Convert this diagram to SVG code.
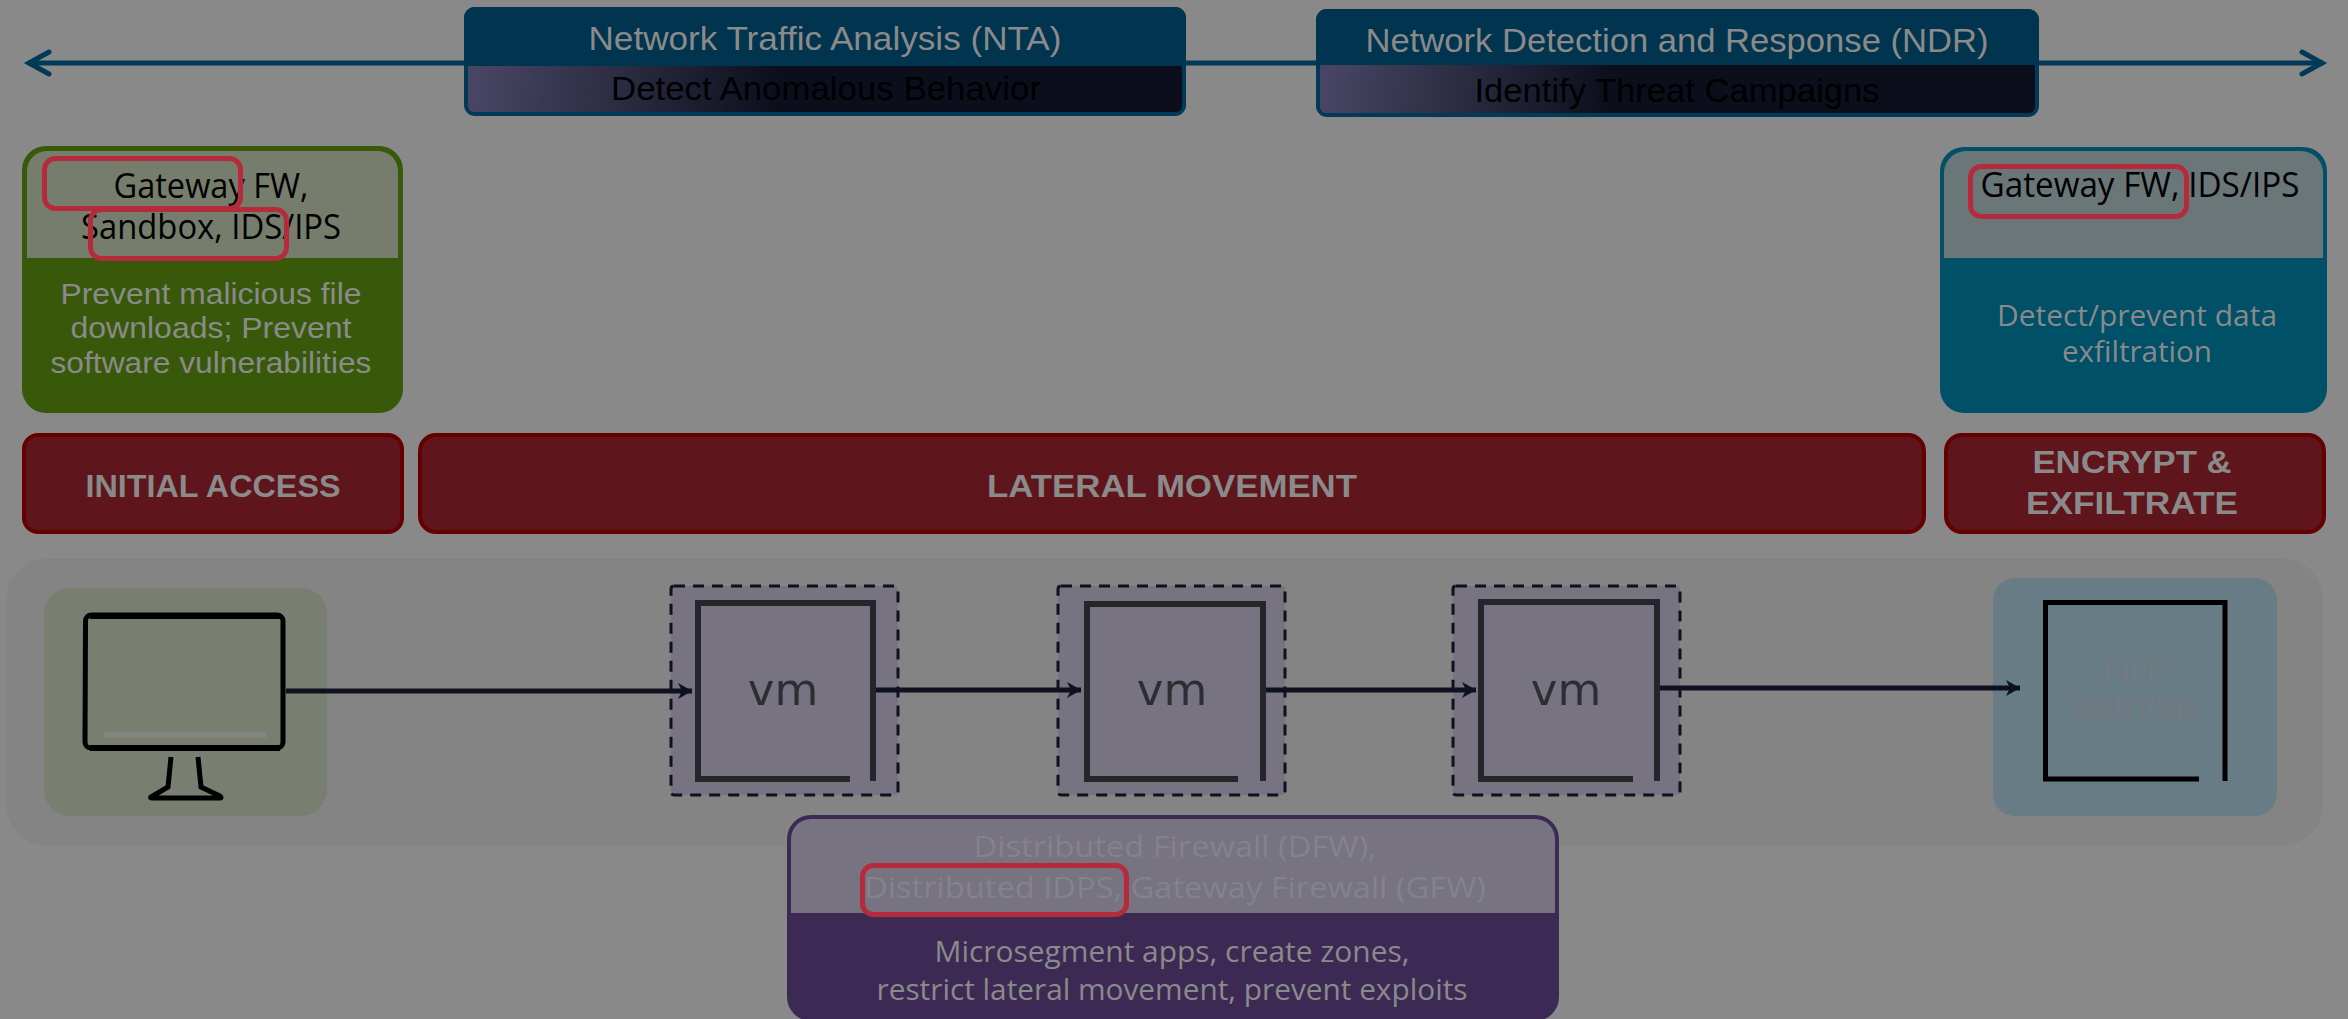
<svg xmlns="http://www.w3.org/2000/svg" width="2348" height="1019" viewBox="0 0 2348 1019">
<style>
text{text-anchor:middle}
.a{font-family:"Liberation Sans",Arial,sans-serif}
.o{font-family:"Open Sans","Noto Sans",sans-serif}
.light{fill:#8a8a8a}
.bold{font-weight:700;font-size:32px;fill:#8a8a8a}
.blk{fill:#000}
.faint{fill:#84828c}
.hl{fill:none;stroke:#b52b3b;stroke-width:5}
.bar{fill:#5f151c;stroke:#640000;stroke-width:4}
.dash{fill:#777380;stroke:#0f1020;stroke-width:3;stroke-dasharray:11 8}
.vmi{fill:none;stroke:#26262a;stroke-width:6;filter:url(#soft)}
.vmt{font-family:"DejaVu Sans",sans-serif;font-size:45px;fill:#2e2e33;filter:url(#soft)}
.conn{stroke:#0f1020;stroke-width:5;fill:none;marker-end:url(#head)}
</style>
<defs>
<marker id="head" markerUnits="userSpaceOnUse" markerWidth="18" markerHeight="20" refX="16" refY="10" orient="auto">
<path d="M2,2 L16,10 L2,18 L6,10 Z" fill="#0f1020"/>
</marker>
<marker id="chev" markerUnits="userSpaceOnUse" markerWidth="30" markerHeight="32" refX="25" refY="16" orient="auto-start-reverse">
<path d="M4,5 L24,16 L4,27" fill="none" stroke="#013a56" stroke-width="5" stroke-linecap="round"/>
</marker>
<linearGradient id="fade1" gradientUnits="userSpaceOnUse" x1="480" y1="75" x2="780" y2="105">
<stop offset="0" stop-color="#474563"/><stop offset="1" stop-color="#0c0e1c"/>
</linearGradient>
<linearGradient id="fade2" gradientUnits="userSpaceOnUse" x1="1330" y1="75" x2="1610" y2="105">
<stop offset="0" stop-color="#474563"/><stop offset="1" stop-color="#0c0e1c"/>
</linearGradient>
<filter id="soft" x="-5%" y="-5%" width="110%" height="110%"><feGaussianBlur stdDeviation="0.7"/></filter>
</defs>
<rect width="2348" height="1019" fill="#898989"/>
<rect id="panel" x="6" y="558" width="2317" height="288" rx="42" fill="#848484"/>

<g id="timeline-arrow"><line x1="28" y1="63" x2="2323" y2="63" stroke="#013a56" stroke-width="5" marker-start="url(#chev)" marker-end="url(#chev)"/></g>

<g id="nta">
<rect x="464" y="7" width="722" height="109" rx="11" fill="#013a56"/>
<path d="M464,66 V18 a11,11 0 0 1 11,-11 H1175 a11,11 0 0 1 11,11 V66 Z" fill="#01344e"/>
<path d="M468,66 H1182 V106 a6,6 0 0 1 -6,6 H474 a6,6 0 0 1 -6,-6 Z" fill="url(#fade1)"/>
<text class="a light" x="825" y="50" font-size="33" textLength="473" lengthAdjust="spacingAndGlyphs">Network Traffic Analysis (NTA)</text>
<text class="a blk" x="826" y="100" font-size="33" textLength="430" lengthAdjust="spacingAndGlyphs">Detect Anomalous Behavior</text>
</g>

<g id="ndr">
<rect x="1316" y="9" width="723" height="108" rx="11" fill="#013a56"/>
<path d="M1316,65 V20 a11,11 0 0 1 11,-11 H2028 a11,11 0 0 1 11,11 V65 Z" fill="#01344e"/>
<path d="M1320,65 H2035 V107 a6,6 0 0 1 -6,6 H1326 a6,6 0 0 1 -6,-6 Z" fill="url(#fade2)"/>
<text class="a light" x="1677" y="52" font-size="33" textLength="623" lengthAdjust="spacingAndGlyphs">Network Detection and Response (NDR)</text>
<text class="a blk" x="1677" y="102" font-size="33" textLength="405" lengthAdjust="spacingAndGlyphs">Identify Threat Campaigns</text>
</g>

<g id="initial-controls">
<rect x="22" y="146" width="381" height="267" rx="24" fill="#385909"/>
<path d="M27,258 V171 a20,20 0 0 1 20,-20 H378 a20,20 0 0 1 20,20 V258 Z" fill="#767d6c"/>
<text class="o blk" x="211" y="198" font-size="34" textLength="195" lengthAdjust="spacingAndGlyphs">Gateway FW,</text>
<text class="o blk" x="211" y="239" font-size="34" textLength="260" lengthAdjust="spacingAndGlyphs">Sandbox, IDS/IPS</text>
<text class="a light" x="211" y="304" font-size="30" textLength="301" lengthAdjust="spacingAndGlyphs">Prevent malicious file</text>
<text class="a light" x="211" y="338" font-size="30" textLength="281" lengthAdjust="spacingAndGlyphs">downloads; Prevent</text>
<text class="a light" x="211" y="373" font-size="30" textLength="321" lengthAdjust="spacingAndGlyphs">software vulnerabilities</text>
<rect class="hl" x="44.500" y="158.500" width="196" height="50" rx="11"/>
<rect class="hl" x="90.500" y="209.500" width="196" height="49" rx="11"/>
</g>

<g id="exfil-controls">
<rect x="1940" y="147" width="387" height="266" rx="24" fill="#005068"/>
<path d="M1944,258 V173 a22,22 0 0 1 22,-22 H2301 a22,22 0 0 1 22,22 V258 Z" fill="#6b7678"/>
<text class="o blk" x="2140" y="197" font-size="34" textLength="319" lengthAdjust="spacingAndGlyphs">Gateway FW, IDS/IPS</text>
<text class="o light" x="2137" y="326" font-size="30" textLength="280" lengthAdjust="spacingAndGlyphs">Detect/prevent data</text>
<text class="o light" x="2137" y="362" font-size="30" textLength="150" lengthAdjust="spacingAndGlyphs">exfiltration</text>
<rect class="hl" x="1970.500" y="166.500" width="216" height="50" rx="11"/>
</g>

<g id="initial-access"><rect class="bar" x="24" y="435" width="378" height="97" rx="14"/><text class="a bold" x="213" y="497" textLength="255" lengthAdjust="spacingAndGlyphs">INITIAL ACCESS</text></g>
<g id="lateral-movement"><rect class="bar" x="420" y="435" width="1504" height="97" rx="16"/><text class="a bold" x="1172" y="497" textLength="370" lengthAdjust="spacingAndGlyphs">LATERAL MOVEMENT</text></g>
<g id="encrypt-exfiltrate"><rect class="bar" x="1946" y="435" width="378" height="97" rx="16"/><text class="a bold" x="2132" y="473" textLength="199" lengthAdjust="spacingAndGlyphs">ENCRYPT &amp;</text><text class="a bold" x="2132" y="514" textLength="212" lengthAdjust="spacingAndGlyphs">EXFILTRATE</text></g>

<g id="workstation">
<rect x="44" y="588" width="283" height="228" rx="26" fill="#787e70"/>
<path d="M85.500,624 V621 a6,6 0 0 1 6,-6 H277 a6,6 0 0 1 6,6 V742 a6,6 0 0 1 -6,6 H91 a6,6 0 0 1 -6,-6 Z" fill="none" stroke="#000" stroke-width="5"/>
<path d="M90,616 H280" stroke="#000" stroke-width="6"/>
<path d="M90,748 H280" stroke="#000" stroke-width="6"/>
<rect x="104" y="732" width="162" height="6" fill="#848483"/>
<path d="M171,757 L168,787 L151,797 Q150,798 152,798 H220 Q222,798 220,796 L201,787 L198,757" fill="none" stroke="#000" stroke-width="5"/>
</g>

<g id="vm1">
<rect class="dash" x="671" y="586" width="227" height="209" rx="3"/>
<path class="vmi" d="M850,779 H698 V603 H873 V781"/>
<text class="vmt" x="783" y="705">vm</text>
</g>
<g id="vm2">
<rect class="dash" x="1058" y="586" width="227" height="209" rx="3"/>
<path class="vmi" d="M1238,779 H1087 V604 H1263 V781"/>
<text class="vmt" x="1172" y="705">vm</text>
</g>
<g id="vm3">
<rect class="dash" x="1453" y="586" width="227" height="209" rx="3"/>
<path class="vmi" d="M1633,779 H1481 V602 H1657 V781"/>
<text class="vmt" x="1566" y="705">vm</text>
</g>

<g id="file-server">
<rect x="1993" y="578" width="284" height="238" rx="22" fill="#687c85"/>
<path d="M2199,779 H2045.500 V602.500 H2225 V781" fill="none" stroke="#000" stroke-width="5"/>
<text class="a" x="2135" y="682" font-size="31" fill="#757a7e">FILE</text>
<text class="a" x="2135" y="719" font-size="31" fill="#757a7e">SERVER</text>
</g>

<g id="connectors">
<path class="conn" d="M286,691 H692"/>
<path class="conn" d="M876,690 H1081"/>
<path class="conn" d="M1266,690 H1476"/>
<path class="conn" d="M1660,688 H2020"/>
</g>

<g id="dfw-controls">
<rect x="787" y="815" width="772" height="206" rx="24" fill="#3c2a54"/>
<path d="M791,913 V839 a20,20 0 0 1 20,-20 H1535 a20,20 0 0 1 20,20 V913 Z" fill="#777380"/>
<text class="o faint" x="1175" y="857" font-size="30" textLength="403" lengthAdjust="spacingAndGlyphs">Distributed Firewall (DFW),</text>
<text class="o faint" x="1175" y="898" font-size="30" textLength="622" lengthAdjust="spacingAndGlyphs">Distributed IDPS, Gateway Firewall (GFW)</text>
<text class="o light" x="1172" y="962" font-size="30" textLength="475" lengthAdjust="spacingAndGlyphs">Microsegment apps, create zones,</text>
<text class="o light" x="1172" y="1000" font-size="30" textLength="591" lengthAdjust="spacingAndGlyphs">restrict lateral movement, prevent exploits</text>
<rect class="hl" x="862.500" y="865.500" width="264" height="49" rx="11"/>
</g>
</svg>
